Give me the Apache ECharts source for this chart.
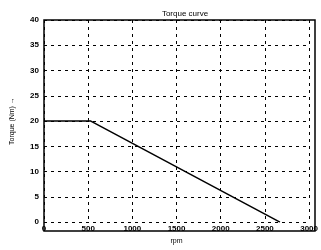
<!DOCTYPE html>
<html>
<head>
<meta charset="utf-8">
<script src="https://cdn.jsdelivr.net/npm/echarts@6/dist/echarts.min.js"></script>
<style>
  html, body { margin: 0; padding: 0; background: #fff; }
  #chart { width: 321px; height: 250px; }
</style>
</head>
<body>
<div id="chart"></div>
<script>
// torque curve corner points (rpm, torque)
const rpmPoints = [0, 530, 2670]
const torqueValues = [20, 20, 0]
const xTicks = [0, 500, 1000, 1500, 2000, 2500, 3000]
const yTicks = [0, 5, 10, 15, 20, 25, 30, 35, 40]

const chart = echarts.init(document.getElementById('chart'))
const font = 'Liberation Sans'

chart.setOption({
  animation: false,
  title: {
    text: 'Torque curve',
    left: 180,
    top: 5,
    textAlign: 'center',
    textStyle: { fontFamily: font, fontSize: 8, fontWeight: 'normal', color: '#000' }
  },
  grid: { left: 44, right: 6, top: 20, bottom: 19 },
  xAxis: {
    type: 'value',
    min: xTicks[0],
    max: xTicks[xTicks.length - 1],
    interval: 500,
    name: 'rpm',
    nameLocation: 'middle',
    nameGap: 12,
    nameTextStyle: { fontFamily: font, fontSize: 7, color: '#000' },
    axisLine: { show: false },
    axisTick: { show: false },
    axisLabel: {
      fontFamily: font, fontSize: 8, fontWeight: 'bold', color: '#000', margin: 3,
      formatter: v => String(v)
    },
    splitLine: { lineStyle: { color: '#000', type: [3, 4], width: 1 } }
  },
  yAxis: {
    type: 'value',
    min: yTicks[0],
    max: yTicks[yTicks.length - 1],
    interval: 5,
    name: 'Torque (Nm) \u2192',
    nameLocation: 'middle',
    nameGap: 28,
    nameRotate: 90,
    nameTextStyle: { fontFamily: font, fontSize: 7, color: '#000' },
    axisLine: { show: false },
    axisTick: { show: false },
    axisLabel: { fontFamily: font, fontSize: 8, fontWeight: 'bold', color: '#000', margin: 5 },
    splitLine: { lineStyle: { color: '#000', type: [3, 4], width: 1 } }
  },
  graphic: [{
    type: 'rect',
    shape: { x: 44, y: 20, width: 271, height: 211 },
    style: { fill: 'none', stroke: '#000', lineWidth: 1.5 },
    z: 10
  }],
  series: [{
    type: 'line',
    data: rpmPoints.map((r, i) => [r, torqueValues[i]]),
    showSymbol: false,
    lineStyle: { color: '#000', width: 1.5 }
  }]
})
</script>
</body>
</html>
